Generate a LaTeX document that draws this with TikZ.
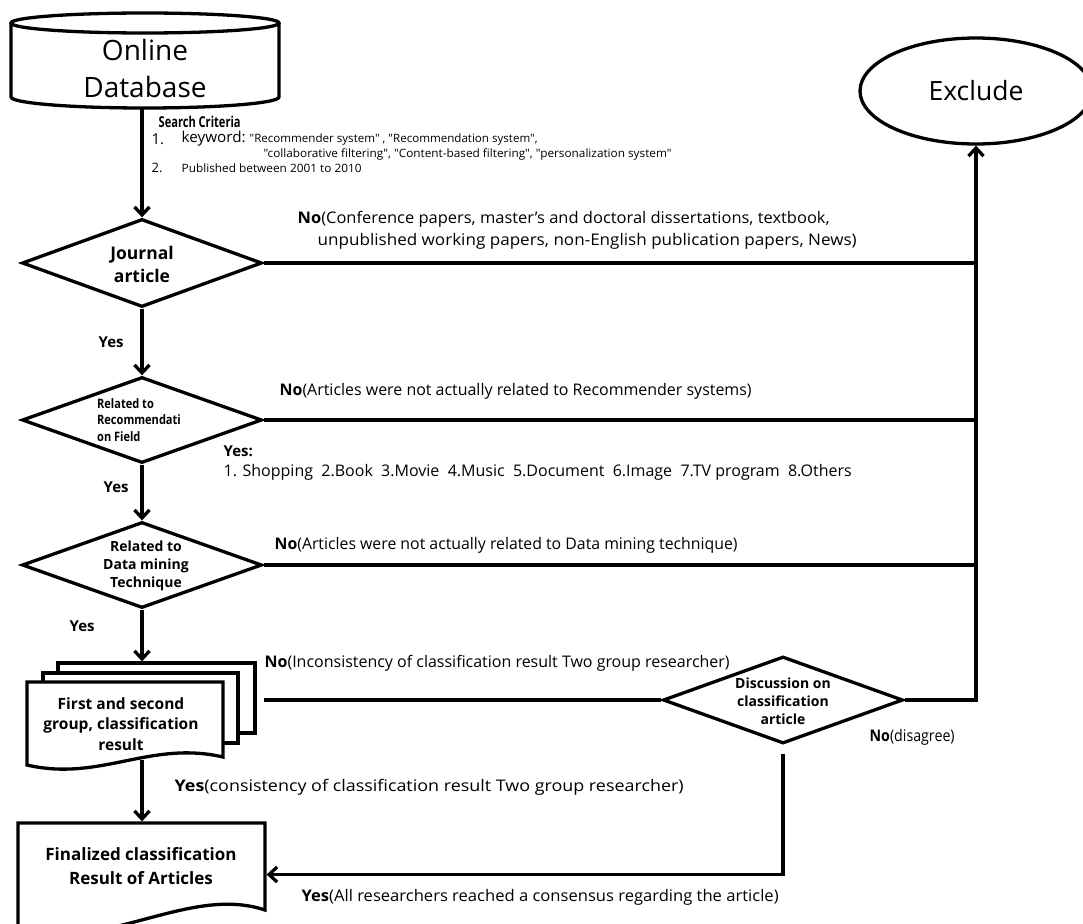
\documentclass[tikz,border=0pt]{standalone}
\usepackage{fontspec}
\setmainfont{Open Sans}[Ligatures=TeXOff]
\usepackage{graphicx}
\usetikzlibrary{shapes.geometric,arrows.meta}
\newcommand{\fitw}[2]{\resizebox{#1pt}{\height}{#2}}
\newcommand{\fs}[2]{\fontsize{#1}{#2}\selectfont}
\begin{document}
\begin{tikzpicture}[x=1pt,y=-1pt,line width=3.3pt,line join=miter,
 arr/.style={-{Straight Barb[length=8pt,width=15pt]}},
 dia/.style={diamond,draw,fill=white,minimum width=240pt,minimum height=86pt,inner sep=0pt},
 lbl/.style={anchor=west,inner sep=0pt,font=\fs{16}{18}},
 small/.style={anchor=west,inner sep=0pt,font=\fs{11.5}{14}},
 txt/.style={inner sep=0pt,align=center},
 yes/.style={anchor=west,inner sep=0pt,font=\bfseries\fs{15}{18}},
]
\useasboundingbox (0,0) rectangle (1083,923);

% online database cylinder
\draw[fill=white] (11,23) -- (11,97) .. controls (11,103.1) and (71,108) .. (145,108)
  .. controls (219,108) and (279,103.1) .. (279,97) -- (279,23);
\draw (145,23) ellipse [x radius=134, y radius=10];
\node[txt,font=\fs{28}{37}] (db) at (145,69) {Online\\Database};
\coordinate (dbbot) at (142,109);

% exclude
\node[ellipse,draw,minimum width=232pt,minimum height=106pt,inner sep=0pt,font=\fs{26.5}{30}] (exc) at (976,91) {Exclude};

% search criteria
\node[anchor=west,inner sep=0pt,font=\bfseries\fs{15}{16}] (sc) at (157,122) {\fitw{82}{Search Criteria}};
\node[anchor=west,inner sep=0pt,font=\fs{15}{16}] (n1) at (150,139) {1.};
\node[anchor=west,inner sep=0pt,font=\fs{15}{16}] (kw) at (180,139) {\fitw{64}{keyword:}};
\node[small] (q1) at (248,140) {\fitw{288}{"Recommender system" , "Recommendation system",}};
\node[small] (q2) at (262,154) {\fitw{408}{"collaborative filtering", "Content-based filtering", "personalization system"}};
\node[anchor=west,inner sep=0pt,font=\fs{13}{16}] (n2) at (150,168) {2.};
\node[small] (pub) at (180,168) {\fitw{180}{Published between 2001 to 2010}};

% decisions
\node[dia,minimum height=88pt] (jour) at (142,263) {};
\node[txt,font=\bfseries\fs{17.5}{23}] (jourt) at (142,264) {Journal\\article};
\node[dia] (rel) at (142,420) {};
\node[txt,align=left,font=\bfseries\fs{13}{16.5},transform shape,xscale=0.85] (relt) at (139,420) {Related to\\Recommendati\\on Field};
\node[dia] (dm) at (142,565) {};
\node[txt,font=\bfseries\fs{14}{18}] (dmt) at (146,566) {Related to\\Data mining\\Technique};
\node[dia,minimum height=87pt] (disc) at (783,700) {};
\node[txt,font=\bfseries\fs{14}{18}] (disct) at (783,701) {Discussion on\\classification\\article};

% stacked documents
\node[draw,fill=white,minimum width=197pt,minimum height=70pt,inner sep=0pt] (grpback) at (156.5,698) {};
\node[draw,fill=white,minimum width=195pt,minimum height=70pt,inner sep=0pt] (grpmid) at (140.5,708) {};
\draw[fill=white] (27,682) -- (223,682) -- (223,757) .. controls (150,740) and (100,782) .. (27,765) -- cycle;
\node[txt,font=\bfseries\fs{15.5}{20.5}] (grp) at (121,724) {First and second\\group, classification\\result};
\coordinate (grpbot) at (142,760);

% finalized
\draw (18,823) -- (265,823) -- (265,910) .. controls (190,885) and (110,950) .. (18,932) -- cycle;
\node[minimum width=247pt,minimum height=87pt,inner sep=0pt] (fin) at (141.5,866.5) {};
\node[txt,font=\bfseries\fs{17}{24}] (fint) at (141,866) {Finalized classification\\Result of Articles};

% connectors
\draw[arr] (dbbot) -- (jour.north);
\draw[arr] (jour.south) -- (rel.north);
\draw[arr] (rel.south) -- (dm.north);
\draw[arr] (dm.south) -- (dm.south |- grpback.north);
\draw[arr] (grpbot) -- (grpbot |- fin.north);
\draw (jour.east) -- (jour.east -| exc.south);
\draw (rel.east) -- (rel.east -| exc.south);
\draw (dm.east) -- (dm.east -| exc.south);
\draw ([xshift=7pt]grpback.east |- disc.west) -- (disc.west);
\draw[arr] (disc.east) -- (disc.east -| exc.south) -- (exc.south);
\draw[arr] ([yshift=-9pt]disc.south) |- ([yshift=-8pt]fin.east);

% labels
\node[lbl] (l1a) at (296,219) {\fitw{532}{\textbf{No}(Conference papers, master’s and doctoral dissertations, textbook,}};
\node[lbl] (l1b) at (316,241) {\fitw{539}{unpublished working papers, non-English publication papers, News)}};
\node[yes] (y1) at (97,342) {Yes};
\node[lbl] (l2) at (278,391) {\fitw{472}{\textbf{No}(Articles were not actually related to Recommender systems)}};
\node[yes] (y2a) at (222,451) {Yes:};
\node[lbl] (l2b) at (222,472) {\fitw{628}{1. Shopping\ \ 2.Book\ \ 3.Movie\ \ 4.Music\ \ 5.Document\ \ 6.Image\ \ 7.TV program\ \ 8.Others}};
\node[yes] (y2) at (102,487) {Yes};
\node[lbl] (l3) at (273,545) {\fitw{463}{\textbf{No}(Articles were not actually related to Data mining technique)}};
\node[yes] (y3) at (68,626) {Yes};
\node[lbl] (l4) at (263,663) {\fitw{465}{\textbf{No}(Inconsistency of classification result Two group researcher)}};
\node[lbl] (l5) at (868,737) {\fitw{85}{\textbf{No}(disagree)}};
\node[lbl] (l6) at (173,787) {\fitw{509}{\textbf{Yes}(consistency of classification result Two group researcher)}};
\node[lbl] (l7) at (300,897) {\fitw{477}{\textbf{Yes}(All researchers reached a consensus regarding the article)}};
\end{tikzpicture}
\end{document}
